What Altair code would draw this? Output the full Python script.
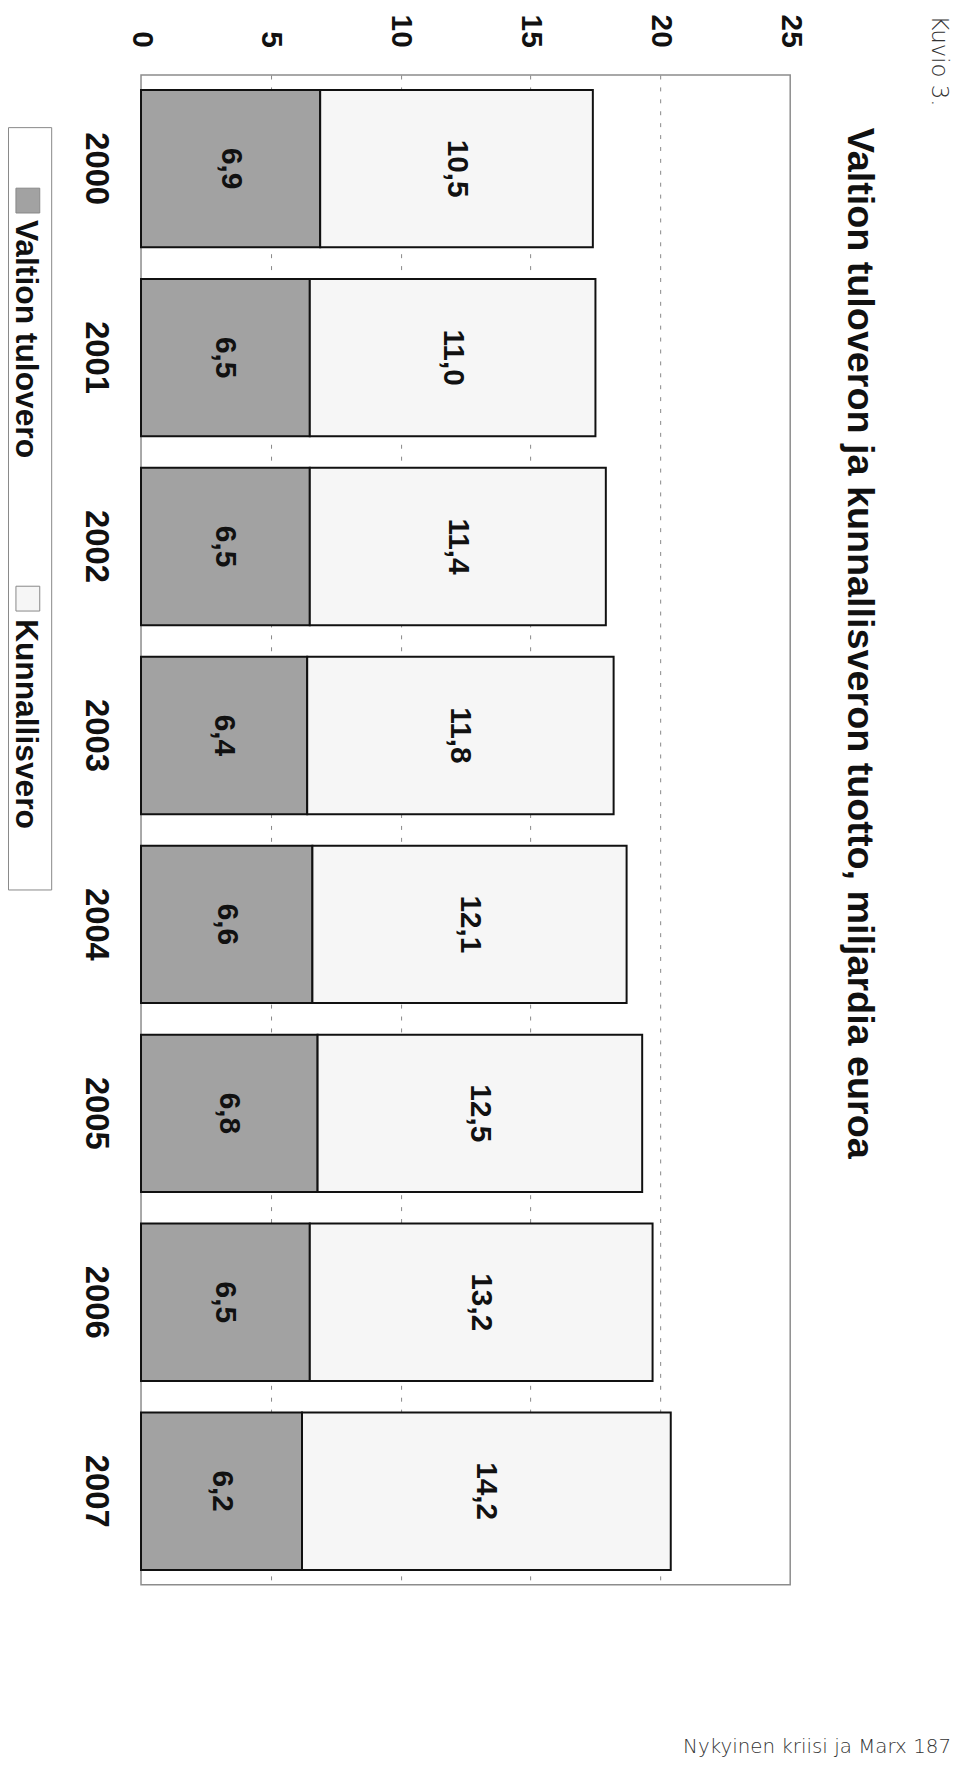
import altair as alt
import pandas as pd

# ---- data ----
years = ["2000", "2001", "2002", "2003", "2004", "2005", "2006", "2007"]
valtion = [6.9, 6.5, 6.5, 6.4, 6.6, 6.8, 6.5, 6.2]
kunnallis = [10.5, 11.0, 11.4, 11.8, 12.1, 12.5, 13.2, 14.2]
series = ["Valtion tulovero", "Kunnallisvero"]
colors = ["#a2a2a2", "#f6f6f6"]
x_ticks = [0, 5, 10, 15, 20, 25]
title_text = "Valtion tuloveron ja kunnallisveron tuotto, miljardia euroa"
figure_label = "Kuvio 3."
footer_text = "Nykyinen kriisi ja Marx 187"

rows = []
for i, yr in enumerate(years):
    rows.append({"year": yr, "series": series[0], "ord": 0, "value": valtion[i]})
    rows.append({"year": yr, "series": series[1], "ord": 1, "value": kunnallis[i]})
df = pd.DataFrame(rows)

W, H = 654, 1521
FONT = "Arial, 'Liberation Sans', Helvetica, sans-serif"
LIGHT = "'DejaVu Sans', sans-serif"

x_scale = alt.Scale(domain=[0, 25], nice=False, zero=True)
y_scale = alt.Scale(domain=years, paddingInner=0.167, paddingOuter=0.079)
color_scale = alt.Scale(domain=series, range=colors)

x_axis = alt.Axis(
    orient="top", values=x_ticks, title=None, domain=False, ticks=False,
    labelAngle=90, labelAlign="right", labelBaseline="middle", labelPadding=28,
    labelFont=FONT, labelFontSize=30, labelFontWeight="bold", labelColor="#111",
    grid=True, gridColor="#888", gridDash=[4, 8], gridWidth=1,
    gridOpacity={"condition": {"test": "datum.value == 0 || datum.value == 25", "value": 0}, "value": 1},
)
y_axis = alt.Axis(
    title=None, domain=False, ticks=False, grid=False,
    labelAngle=90, labelAlign="center", labelBaseline="top", labelPadding=30,
    labelFont=FONT, labelFontSize=33, labelFontWeight="bold", labelColor="#111",
)

base = alt.Chart(df)

bars = base.mark_bar(stroke="#111", strokeWidth=2).encode(
    x=alt.X("value:Q", stack="zero", scale=x_scale, axis=x_axis),
    y=alt.Y("year:N", scale=y_scale, axis=y_axis),
    color=alt.Color("series:N", scale=color_scale, legend=None),
    order=alt.Order("ord:Q"),
)

bar_labels = base.transform_stack(
    stack="value", groupby=["year"], as_=["v0", "v1"],
    sort=[alt.SortField("ord", order="ascending")],
).transform_calculate(
    mid="(datum.v0 + datum.v1) / 2",
    label="replace(format(datum.value, '.1f'), '.', ',')",
).mark_text(
    angle=90, align="center", baseline="middle",
    font=FONT, fontSize=30, fontWeight="bold", color="#111",
).encode(
    x=alt.X("mid:Q", scale=x_scale),
    y=alt.Y("year:N", scale=y_scale),
    text="label:N",
)

title = alt.Chart(pd.DataFrame({"t": [title_text]})).mark_text(
    angle=90, align="left", baseline="alphabetic",
    font=FONT, fontSize=38, fontWeight="bold", color="#111",
).encode(x=alt.value(712), y=alt.value(53), text="t:N")

fig_label = alt.Chart(pd.DataFrame({"t": [figure_label]})).mark_text(
    angle=90, align="left", baseline="alphabetic",
    font=LIGHT, fontSize=23, fontWeight=200, color="#333",
).encode(x=alt.value(797), y=alt.value(-60), text="t:N")

footer = alt.Chart(pd.DataFrame({"t": [footer_text]})).mark_text(
    align="right", baseline="alphabetic",
    font=LIGHT, fontSize=20, fontWeight=200, color="#333",
).encode(x=alt.value(816), y=alt.value(1690), text="t:N")

# ---- hand-drawn rotated legend ----
legend_box = alt.Chart(pd.DataFrame({"a": [0]})).mark_rect(
    fill="white", stroke="#888", strokeWidth=1
).encode(x=alt.value(-133.5), x2=alt.value(-90), y=alt.value(53), y2=alt.value(821))

legend_layout = [(114, 146), (515, 548)]  # (symbol top, label start) in px
legend_layers = [legend_box]
for s, (sy, ly) in zip(series, legend_layout):
    sym = alt.Chart(pd.DataFrame({"series": [s]})).mark_rect(
        stroke="#888", strokeWidth=1
    ).encode(
        x=alt.value(-126), x2=alt.value(-102), y=alt.value(sy), y2=alt.value(sy + 25),
        color=alt.Color("series:N", scale=color_scale, legend=None),
    )
    lab = alt.Chart(pd.DataFrame({"series": [s]})).mark_text(
        angle=90, align="left", baseline="alphabetic",
        font=FONT, fontSize=32, fontWeight="bold", color="#111",
    ).encode(x=alt.value(-126), y=alt.value(ly), text="series:N")
    legend_layers += [sym, lab]

chart = alt.layer(
    bars, bar_labels, title, fig_label, footer, *legend_layers
).properties(
    width=W, height=H,
    autosize=alt.AutoSizeParams(type="none"),
    padding={"left": 134, "top": 61, "right": 163, "bottom": 176},
    background="white",
).configure_view(
    stroke="#8c8c8c", strokeWidth=1.5
)

chart.save("out.html", embed_options={"renderer": "svg", "actions": False})
